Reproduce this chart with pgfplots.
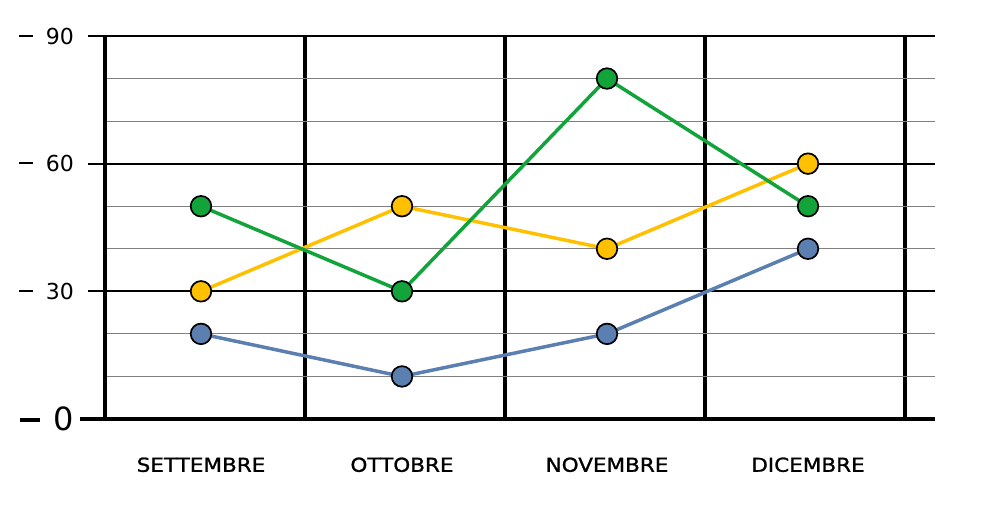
\documentclass[border=0pt]{standalone}
\usepackage{pgfplots}
\pgfplotsset{compat=1.18}
\usepackage{fontspec}
\setmainfont{DejaVu Sans}
\newfontfamily\catfont[FakeStretch=1.12, FakeBold=1.2]{DejaVu Sans}
\definecolor{sblue}{HTML}{5B7FB0}
\definecolor{syellow}{HTML}{FFC000}
\definecolor{sgreen}{HTML}{12A33A}
\newcommand{\dsh}{\rule[7.5pt]{14pt}{2pt}\hspace{13pt}}
\newcommand{\bdsh}{\rule[9pt]{20pt}{3.5pt}\hspace{13pt}}
\begin{document}
\begin{tikzpicture}
\begin{axis}[
  scale only axis, width=830pt, height=383pt,
  xmin=0, xmax=4.15, ymin=0, ymax=90,
  axis x line*=bottom, axis y line*=left,
  axis line style={-, line width=3.5pt, black},
  xtick={0,1,2,3,4}, xticklabels={},
  xmajorgrids, x grid style={black, line width=3.5pt},
  xtick style={draw=none},
  extra x ticks={0.48,1.485,2.51,3.515},
  extra x tick labels={SETTEMBRE,OTTOBRE,NOVEMBRE,DICEMBRE},
  extra x tick style={grid=none, tick style={draw=none},
     tick label style={font=\catfont\fontsize{19.2}{21}\selectfont, yshift=-18pt}},
  ytick={0,30,60,90},
  yticklabels={{\bdsh\fontsize{32}{34}\selectfont 0\hspace{2pt}},{\dsh 30},{\dsh 60},{\dsh 90}},
  minor ytick={10,20,40,50,70,80},
  ymajorgrids, yminorgrids,
  y grid style={black, line width=2pt},
  minor y grid style={gray, line width=1pt},
  tick align=outside, major tick length=17pt,
  ytick style={black, line width=2pt},
  minor tick length=0pt,
  yticklabel style={font=\fontsize{22}{24}\selectfont, inner sep=0pt, xshift=-14pt},
  clip=false,
]
\addplot[sblue, line width=3.5pt, mark=*, mark size=10.3pt, mark options={draw=black, fill=sblue, line width=1.7pt}] coordinates {(0.48,20) (1.485,10) (2.51,20) (3.515,40)};
\addplot[syellow, line width=3.5pt, mark=*, mark size=10.3pt, mark options={draw=black, fill=syellow, line width=1.7pt}] coordinates {(0.48,30) (1.485,50) (2.51,40) (3.515,60)};
\addplot[sgreen, line width=3.5pt, mark=*, mark size=10.3pt, mark options={draw=black, fill=sgreen, line width=1.7pt}] coordinates {(0.48,50) (1.485,30) (2.51,80) (3.515,50)};
\draw[black, line width=3.5pt] (axis cs:0,0) -- ++(-25pt,0);
\end{axis}
\path (-105pt,-86pt) rectangle (901pt,419pt);
\end{tikzpicture}
\end{document}
